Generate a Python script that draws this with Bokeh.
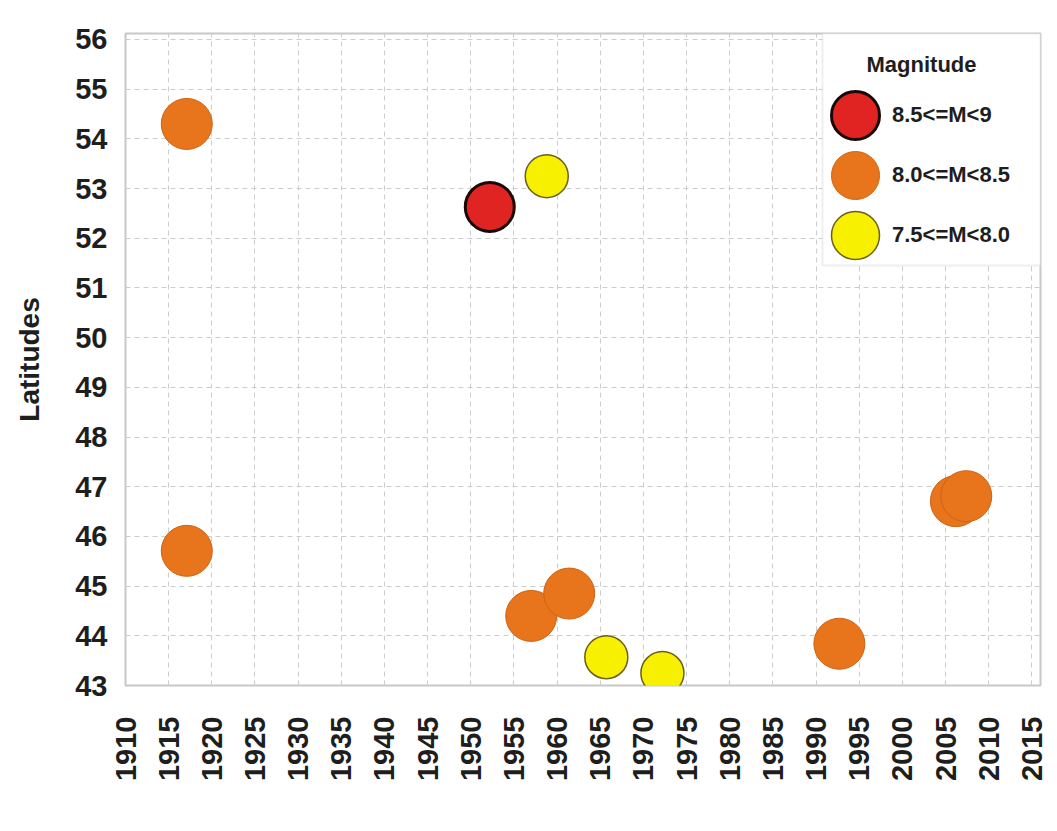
import math
from bokeh.plotting import figure
from bokeh.models import (ColumnDataSource, FixedTicker, Legend, LegendItem, Label,
                          BoxAnnotation, Range1d)
from bokeh.embed import file_html
from bokeh.resources import INLINE

# ---- data ----
x_ticks = list(range(1910, 2016, 5))
y_ticks = list(range(43, 57))

years_85 = [1952.2]
lats_85 = [52.63]

years_80 = [1917.1, 1917.1, 1957.0, 1961.4, 1992.7, 2006.2, 2007.4]
lats_80 = [54.30, 45.71, 44.40, 44.85, 43.84, 46.71, 46.81]

years_75 = [1958.8, 1965.7, 1972.2]
lats_75 = [53.25, 43.57, 43.25]

labels = ["8.5<=M<9", "8.0<=M<8.5", "7.5<=M<8.0"]
legend_title = "Magnitude"
y_label = "Latitudes"

FONT = "Liberation Sans"

p = figure(width=1049, height=805,
           x_range=Range1d(1910, 2016), y_range=Range1d(43, 56.12),
           output_backend="svg", toolbar_location=None,
           min_border_left=125, min_border_right=9,
           min_border_top=33, min_border_bottom=120)
p.background_fill_color = "white"
p.border_fill_color = "white"
p.outline_line_color = "#c8c8c8"
p.outline_line_width = 2

# axes
for ax in (p.xaxis[0], p.yaxis[0]):
    ax.axis_line_color = None
    ax.major_tick_line_color = None
    ax.minor_tick_line_color = None
    ax.major_label_text_font = FONT
    ax.major_label_text_font_style = "bold"
    ax.major_label_text_font_size = "29px"
    ax.major_label_text_color = "#1e1e1e"

p.xaxis.ticker = FixedTicker(ticks=x_ticks)
p.yaxis.ticker = FixedTicker(ticks=y_ticks)
p.xaxis.major_label_orientation = math.pi / 2
p.xaxis.major_label_standoff = 25
p.yaxis.major_label_standoff = 12

p.yaxis.axis_label = y_label
p.yaxis.axis_label_text_font = FONT
p.yaxis.axis_label_text_font_style = "bold"
p.yaxis.axis_label_text_font_size = "28px"
p.yaxis.axis_label_text_color = "#1e1e1e"
p.yaxis.axis_label_standoff = 27

# grid
p.xgrid.ticker = FixedTicker(ticks=x_ticks)
p.ygrid.ticker = FixedTicker(ticks=y_ticks)
for g in (p.xgrid[0], p.ygrid[0]):
    g.grid_line_color = "#cccccc"
    g.grid_line_dash = "5 4"
    g.grid_line_width = 1

# data renderers
def src(xs, ys, d):
    return ColumnDataSource(dict(x=xs, y=ys, w=[d] * len(xs)))

r80 = p.ellipse(x="x", y="y", width="w", height="w", width_units="screen",
                height_units="screen", source=src(years_80, lats_80, 51),
                fill_color="#E8741C", line_color="#CC6414", line_width=1)
r75 = p.ellipse(x="x", y="y", width="w", height="w", width_units="screen",
                height_units="screen", source=src(years_75, lats_75, 43),
                fill_color="#F7F000", line_color="#6E5E1E", line_width=1.5)
r85 = p.ellipse(x="x", y="y", width="w", height="w", width_units="screen",
                height_units="screen", source=src(years_85, lats_85, 49),
                fill_color="#E02422", line_color="#1a0806", line_width=3)

# legend box
box = BoxAnnotation(left=697, right=915, top=652, bottom=420,
                    left_units="screen", right_units="screen",
                    top_units="screen", bottom_units="screen",
                    fill_color="white", fill_alpha=1,
                    line_color="#c8c8c8", line_width=2)
p.add_layout(box)

title = Label(x=796, y=621, x_units="screen", y_units="screen",
              text=legend_title, text_align="center", text_baseline="middle",
              text_font=FONT, text_font_style="bold", text_font_size="22px",
              text_color="#1e1e1e")
p.add_layout(title)

legend = Legend(items=[LegendItem(label=labels[0], renderers=[r85]),
                       LegendItem(label=labels[1], renderers=[r80]),
                       LegendItem(label=labels[2], renderers=[r75])],
                location=(699, 420), padding=5, spacing=0, margin=0,
                glyph_width=62, glyph_height=60, label_standoff=6,
                label_text_font=FONT, label_text_font_style="bold",
                label_text_font_size="22px", label_text_color="#1e1e1e",
                border_line_color=None, background_fill_alpha=0)
p.add_layout(legend)

open("out.html", "w").write(file_html(p, INLINE))
